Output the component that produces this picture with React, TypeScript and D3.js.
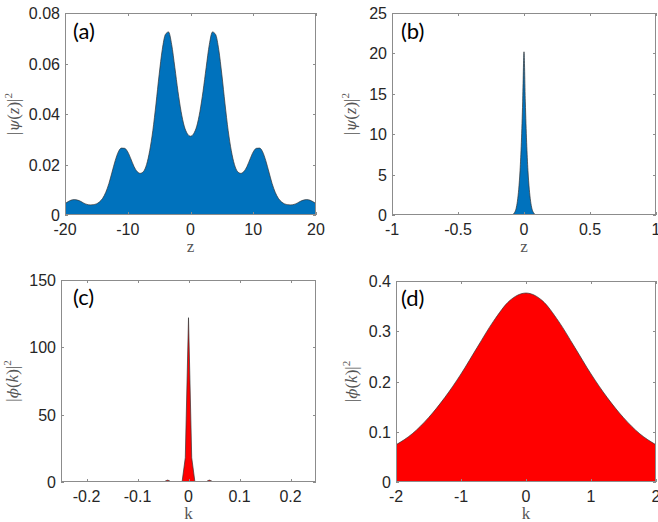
import React from 'react';
import * as d3 from 'd3';

// ---------- data ----------
// (a) |psi(z)|^2, z grid -20..20 step 0.5
const zA: number[] = d3.range(-20, 20.001, 0.5);
const psiA: number[] = [
  0.0045, 0.0053, 0.0059, 0.0061, 0.0059, 0.0054, 0.0047, 0.0042, 0.0040, 0.0041,
  0.0044, 0.0052, 0.0066, 0.0090, 0.0125, 0.0170, 0.0215, 0.0250, 0.0265, 0.0264,
  0.0250, 0.0222, 0.0192, 0.0172, 0.0165, 0.0172, 0.0200, 0.0255, 0.0335, 0.0440,
  0.0555, 0.0655, 0.0715, 0.0725, 0.0675, 0.0585, 0.0490, 0.0410, 0.0352, 0.0322,
  0.0312,
  0.0322, 0.0352, 0.0410, 0.0490, 0.0585, 0.0675, 0.0725, 0.0715, 0.0655, 0.0555,
  0.0440, 0.0335, 0.0255, 0.0200, 0.0172, 0.0165, 0.0172, 0.0192, 0.0222, 0.0250,
  0.0264, 0.0265, 0.0250, 0.0215, 0.0170, 0.0125, 0.0090, 0.0066, 0.0052, 0.0044,
  0.0041, 0.0040, 0.0042, 0.0047, 0.0054, 0.0059, 0.0061, 0.0059, 0.0053, 0.0045,
];

// (b) |psi(z)|^2 narrow soliton
const zB: number[] = [-1, -0.1, -0.09, -0.08, -0.07, -0.06, -0.05, -0.04, -0.03, -0.02, -0.01, 0,
  0.01, 0.02, 0.03, 0.04, 0.05, 0.06, 0.07, 0.08, 0.09, 0.1, 1];
const psiB: number[] = [0, 0, 0.03, 0.12, 0.35, 0.8, 1.7, 3.2, 5.5, 9.0, 14.0, 20.2,
  14.0, 9.0, 5.5, 3.2, 1.7, 0.8, 0.35, 0.12, 0.03, 0, 0];

// (c) |phi(k)|^2 spike with side lobes
const kC: number[] = [-0.25, -0.05, -0.047, -0.044, -0.041, -0.038, -0.035, -0.032, -0.0126, -0.0063, 0,
  0.0063, 0.0126, 0.032, 0.035, 0.038, 0.041, 0.044, 0.047, 0.05, 0.25];
const phiC: number[] = [0, 0, 0.3, 1.0, 1.4, 1.0, 0.3, 0, 0, 18, 122,
  18, 0, 0, 0.3, 1.0, 1.4, 1.0, 0.3, 0, 0];

// (d) |phi(k)|^2 broad
const kD: number[] = [-2, -1.75, -1.5, -1.25, -1, -0.75, -0.5, -0.25, 0, 0.25, 0.5, 0.75, 1, 1.25, 1.5, 1.75, 2];
const phiD: number[] = [0.074, 0.096, 0.128, 0.168, 0.215, 0.268, 0.320, 0.361, 0.376,
  0.361, 0.320, 0.268, 0.215, 0.168, 0.128, 0.096, 0.074];

// ticks
const xTicksA = [-20, -10, 0, 10, 20];
const yTicksA = [0, 0.02, 0.04, 0.06, 0.08];
const xTicksB = [-1, -0.5, 0, 0.5, 1];
const yTicksB = [0, 5, 10, 15, 20, 25];
const xTicksC = [-0.2, -0.1, 0, 0.1, 0.2];
const yTicksC = [0, 50, 100, 150];
const xTicksD = [-2, -1, 0, 1, 2];
const yTicksD = [0, 0.1, 0.2, 0.3, 0.4];

const BLUE = '#0072BD';
const RED = '#FF0000';
const AXIS = '#8c8c8c';
const TXT = '#262626';

type Box = { x0: number; x1: number; y0: number; y1: number };

type PanelProps = {
  id: string;
  box: Box;
  xDomain: [number, number];
  yDomain: [number, number];
  xTicks: number[];
  yTicks: number[];
  xs: number[];
  ys: number[];
  fill: string;
  curve: d3.CurveFactory;
  tag: string;
  tagX: number;
  tagY: number;
  xLabel: string;
  yVar: 'psi' | 'phi';
  yLabelX: number;
};

const fmt = (v: number) => String(+v.toFixed(4));

function Panel(p: PanelProps) {
  const { box } = p;
  const x = d3.scaleLinear().domain(p.xDomain).range([box.x0, box.x1]);
  const y = d3.scaleLinear().domain(p.yDomain).range([box.y1, box.y0]);
  const pts: [number, number][] = p.xs.map((v, i) => [v, p.ys[i]]);
  const area = d3.area<[number, number]>()
    .x((d) => x(d[0]))
    .y0(y(0))
    .y1((d) => y(d[1]))
    .curve(p.curve);
  const line = d3.line<[number, number]>()
    .x((d) => x(d[0]))
    .y((d) => y(d[1]))
    .curve(p.curve);
  const tl = 3;
  const cy = (box.y0 + box.y1) / 2;
  const cx = (box.x0 + box.x1) / 2;
  const fn = p.yVar === 'psi' ? 'ψ' : 'ϕ';
  const arg = p.yVar === 'psi' ? 'z' : 'k';
  return (
    <g>
      <defs>
        <clipPath id={`clip-${p.id}`}>
          <rect x={box.x0} y={box.y0} width={box.x1 - box.x0} height={box.y1 - box.y0} />
        </clipPath>
      </defs>
      <g clipPath={`url(#clip-${p.id})`}>
        <path d={area(pts) || ''} fill={p.fill} />
        <path d={line(pts) || ''} fill="none" stroke="#333" strokeWidth={0.7} />
      </g>
      {/* box */}
      <rect x={box.x0 + 0.5} y={box.y0 + 0.5} width={box.x1 - box.x0 - 1} height={box.y1 - box.y0 - 1}
        fill="none" stroke={AXIS} strokeWidth={1} shapeRendering="crispEdges" />
      {/* x ticks */}
      {p.xTicks.map((t) => {
        const xx = Math.round(x(t)) + 0.5;
        return (
          <g key={`x${t}`}>
            <line x1={xx} x2={xx} y1={box.y1} y2={box.y1 - tl} stroke={AXIS} shapeRendering="crispEdges" />
            <line x1={xx} x2={xx} y1={box.y0} y2={box.y0 + tl} stroke={AXIS} shapeRendering="crispEdges" />
            <text x={x(t)} y={box.y1 + 20} textAnchor="middle" fontSize={16}
              fontFamily="'Liberation Sans', Arial, sans-serif" fill={TXT}>{fmt(t)}</text>
          </g>
        );
      })}
      {/* y ticks */}
      {p.yTicks.map((t) => {
        const yy = Math.round(y(t)) + 0.5;
        return (
          <g key={`y${t}`}>
            <line x1={box.x0} x2={box.x0 + tl} y1={yy} y2={yy} stroke={AXIS} shapeRendering="crispEdges" />
            <line x1={box.x1} x2={box.x1 - tl} y1={yy} y2={yy} stroke={AXIS} shapeRendering="crispEdges" />
            <text x={box.x0 - 5} y={y(t) + 6} textAnchor="end" fontSize={16}
              fontFamily="'Liberation Sans', Arial, sans-serif" fill={TXT}>{fmt(t)}</text>
          </g>
        );
      })}
      {/* panel tag */}
      <text x={p.tagX} y={p.tagY} fontSize={22} fontFamily="Lato, 'Open Sans', sans-serif" fill="#000">{p.tag}</text>
      {/* x label */}
      <text x={cx} y={box.y1 + 37} textAnchor="middle" fontSize={17}
        fontFamily="'Liberation Serif', 'DejaVu Serif', serif" fill="#555">{p.xLabel}</text>
      {/* y label */}
      <text transform={`translate(${p.yLabelX},${cy}) rotate(-90)`} textAnchor="middle" fontSize={17}
        fontFamily="'Liberation Serif', 'DejaVu Serif', serif" fill="#555">
        <tspan>|</tspan>
        <tspan fontStyle="italic" fontFamily="'DejaVu Serif', serif" fontSize={15}>{fn}</tspan>
        <tspan>(</tspan>
        <tspan fontStyle="italic">{arg}</tspan>
        <tspan>)|</tspan>
        <tspan dy={-7} fontSize={11}>2</tspan>
      </text>
    </g>
  );
}

export default function App() {
  return (
    <svg width={658} height={522} viewBox="0 0 658 522"
      style={{ position: 'absolute', left: 0, top: 0, background: '#fff' }}>
      <rect x={0} y={0} width={658} height={522} fill="#fff" />
      <Panel id="a" box={{ x0: 65, x1: 316, y0: 13, y1: 215 }} xDomain={[-20, 20]} yDomain={[0, 0.08]}
        xTicks={xTicksA} yTicks={yTicksA} xs={zA} ys={psiA} fill={BLUE} curve={d3.curveMonotoneX}
        tag="(a)" tagX={73} tagY={39} xLabel="z" yVar="psi" yLabelX={19} />
      <Panel id="b" box={{ x0: 392, x1: 656, y0: 13, y1: 215 }} xDomain={[-1, 1]} yDomain={[0, 25]}
        xTicks={xTicksB} yTicks={yTicksB} xs={zB} ys={psiB} fill={BLUE} curve={d3.curveMonotoneX}
        tag="(b)" tagX={401} tagY={39} xLabel="z" yVar="psi" yLabelX={356} />
      <Panel id="c" box={{ x0: 61, x1: 316, y0: 280, y1: 482 }} xDomain={[-0.25, 0.25]} yDomain={[0, 150]}
        xTicks={xTicksC} yTicks={yTicksC} xs={kC} ys={phiC} fill={RED} curve={d3.curveLinear}
        tag="(c)" tagX={73} tagY={305} xLabel="k" yVar="phi" yLabelX={18} />
      <Panel id="d" box={{ x0: 396, x1: 656, y0: 281, y1: 482 }} xDomain={[-2, 2]} yDomain={[0, 0.4]}
        xTicks={xTicksD} yTicks={yTicksD} xs={kD} ys={phiD} fill={RED} curve={d3.curveMonotoneX}
        tag="(d)" tagX={401} tagY={306} xLabel="k" yVar="phi" yLabelX={357} />
    </svg>
  );
}
